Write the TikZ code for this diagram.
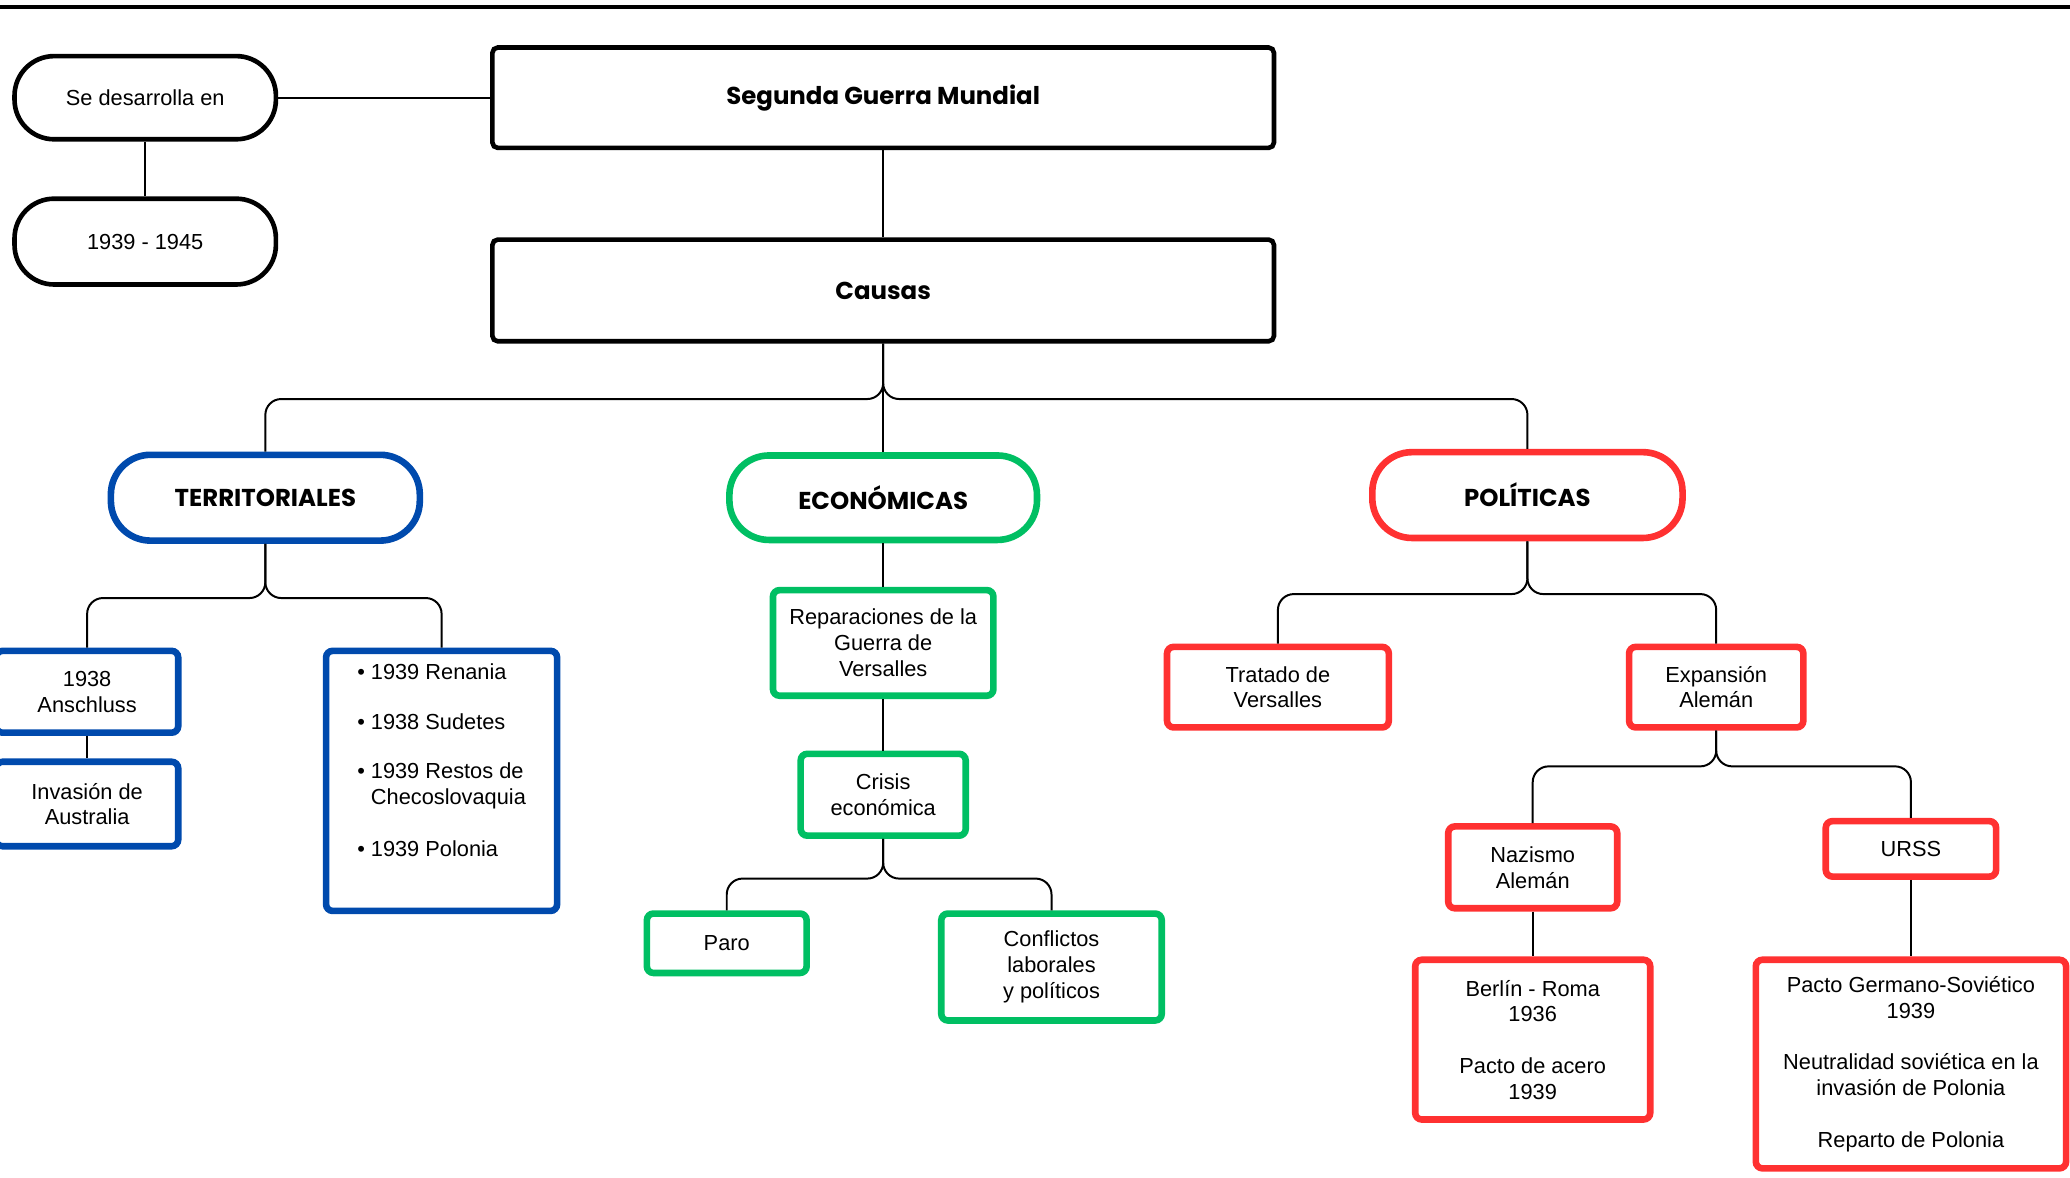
\documentclass[tikz,border=0pt]{standalone}
\usepackage{fontspec}
\setmainfont{Liberation Sans}
\newfontfamily\titulofont{Poppins}
\usetikzlibrary{positioning}

\definecolor{azul}{HTML}{004AAD}
\definecolor{verde}{HTML}{00BF63}
\definecolor{rojo}{HTML}{FF3131}

\begin{document}
\begin{tikzpicture}[x=1pt, y=-1pt,
    every node/.style={inner sep=0pt, align=center, font=\fontsize{16.5}{19.5}\selectfont},
    caja/.style={draw, rounded corners=4pt, line width=3.5pt},
    pill/.style={draw, rounded corners=30pt, line width=3.5pt},
    titulo/.style={font=\fontsize{18.5}{21}\selectfont\titulofont\bfseries},
    azulbox/.style={draw=azul, rounded corners=5pt, line width=5pt},
    verdebox/.style={draw=verde, rounded corners=5pt, line width=5pt},
    rojobox/.style={draw=rojo, rounded corners=5pt, line width=5pt},
    rama/.style={line width=1.5pt, rounded corners=12pt}]

  \useasboundingbox (0,0) rectangle (1568,892);
  \draw[line width=3pt] (0,5) -- (1568,5);

  % cabecera
  \node[pill, minimum width=198pt, minimum height=63pt] (desarrolla) at (110,74) {Se desarrolla en};
  \node[pill, minimum width=198pt, minimum height=65pt] (anios) at (110,183) {1939 - 1945};
  \node[caja, titulo, minimum width=592pt, minimum height=76pt] (sgm) at (669,74) {Segunda Guerra Mundial};
  \node[caja, titulo, minimum width=592pt, minimum height=77pt] (causas) at (669,220) {Causas};

  % tipos de causas
  \node[azulbox, titulo, rounded corners=30pt, minimum width=234pt, minimum height=65pt] (terr) at (201,377) {TERRITORIALES};
  \node[verdebox, titulo, rounded corners=30pt, minimum width=233pt, minimum height=64pt] (econ) at (669,377) {ECONÓMICAS};
  \node[rojobox, titulo, rounded corners=30pt, minimum width=235pt, minimum height=65pt] (poli) at (1157,375) {POLÍTICAS};

  % territoriales
  \node[azulbox, minimum width=138pt, minimum height=62pt] (anschluss) at (66,524) {1938\\Anschluss};
  \node[azulbox, minimum width=138pt, minimum height=64pt] (invasion) at (66,609) {Invasión de\\Australia};
  \node[azulbox, align=left, minimum width=175pt, minimum height=197pt] (listaterr) at (334.5,591.5)
    {\textbullet\ 1939 Renania\\[18pt]
     \textbullet\ 1938 Sudetes\\[18pt]
     \textbullet\ 1939 Restos de\\
     \phantom{\textbullet\ }Checoslovaquia\\[20pt]
     \textbullet\ 1939 Polonia\\[12pt]};

  % economicas
  \node[verdebox, minimum width=167pt, minimum height=80pt] (reparaciones) at (669,487) {Reparaciones de la\\Guerra de\\Versalles};
  \node[verdebox, minimum width=125pt, minimum height=62pt] (crisis) at (669,602) {Crisis\\económica};
  \node[verdebox, minimum width=121pt, minimum height=45pt] (paro) at (550.5,714.5) {Paro};
  \node[verdebox, minimum width=167pt, minimum height=81pt] (conflictos) at (796.5,732.5) {Conflictos\\laborales\\y políticos};

  % politicas
  \node[rojobox, minimum width=168pt, minimum height=61pt] (tratado) at (968,520.5) {Tratado de\\Versalles};
  \node[rojobox, minimum width=132pt, minimum height=61pt] (expansion) at (1300,520.5) {Expansión\\Alemán};
  \node[rojobox, minimum width=128pt, minimum height=62pt] (nazismo) at (1161,657) {Nazismo\\Alemán};
  \node[rojobox, minimum width=129pt, minimum height=42pt] (urss) at (1447.5,643) {URSS};
  \node[rojobox, minimum width=178pt, minimum height=121pt] (berlin) at (1161,787.5)
    {Berlín - Roma\\1936\\[19.5pt]Pacto de acero\\1939};
  \node[rojobox, minimum width=235pt, minimum height=158pt] (pacto) at (1447.5,806)
    {Pacto Germano-Soviético\\1939\\[19.5pt]Neutralidad soviética en la\\invasión de Polonia\\[19.5pt]Reparto de Polonia};

  % conectores
  \draw[line width=1.5pt] (desarrolla.east) -- (sgm.west);
  \draw[line width=1.5pt] (desarrolla.south) -- (anios.north);
  \draw[line width=1.5pt] (sgm.south) -- (causas.north);

  \draw[rama] (causas.south) -- ++(0,42) -| (terr.north);
  \draw[rama] (causas.south) -- ++(0,42) -| (poli.north);
  \draw[line width=1.5pt] (causas.south) -- (econ.north);

  \draw[rama] (terr.south) -- ++(0,41) -| (anschluss.north);
  \draw[rama] (terr.south) -- ++(0,41) -| (listaterr.north);
  \draw[line width=1.5pt] (anschluss.south) -- (invasion.north);

  \draw[line width=1.5pt] (econ.south) -- (reparaciones.north);
  \draw[line width=1.5pt] (reparaciones.south) -- (crisis.north);
  \draw[rama] (crisis.south) -- ++(0,30) -| (paro.north);
  \draw[rama] (crisis.south) -- ++(0,30) -| (conflictos.north);

  \draw[rama] (poli.south) -- ++(0,40) -| (tratado.north);
  \draw[rama] (poli.south) -- ++(0,40) -| (expansion.north);
  \draw[rama] (expansion.south) -- ++(0,27) -| (nazismo.north);
  \draw[rama] (expansion.south) -- ++(0,27) -| (urss.north);
  \draw[line width=1.5pt] (nazismo.south) -- (berlin.north);
  \draw[line width=1.5pt] (urss.south) -- (pacto.north);
\end{tikzpicture}
\end{document}
